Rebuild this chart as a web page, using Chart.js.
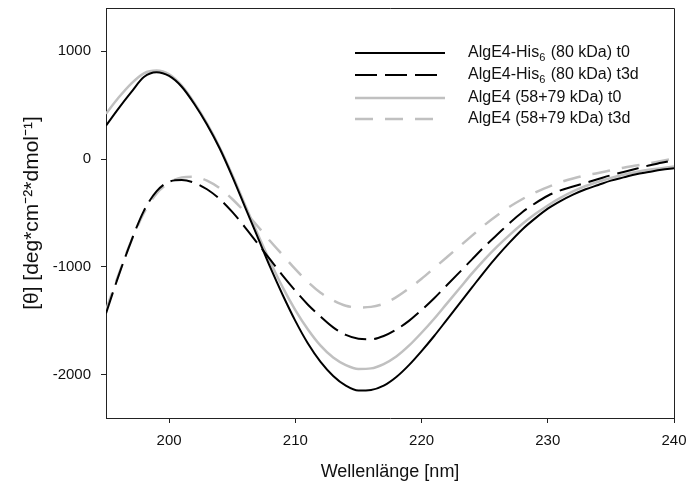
<!DOCTYPE html>
<html><head><meta charset="utf-8">
<script src="https://cdn.jsdelivr.net/npm/chart.js@4"></script>
<style>html,body{margin:0;padding:0;background:#fff}#wrap{width:687px;height:488px}</style>
</head><body><div id="wrap"><canvas id="c" width="687" height="488"></canvas></div>
<script>
const wavelengths = [195,196,197,198,199,200,201,202,203,204,205,206,207,208,209,210,211,212,213,214,215,216,217,218,219,220,221,222,223,224,225,226,227,228,229,230,231,232,233,234,235,236,237,238,239,240];
const his6T0 = [310,470,620,760,805,770,670,510,320,100,-160,-440,-720,-1000,-1260,-1500,-1710,-1880,-2010,-2100,-2145,-2140,-2100,-2020,-1910,-1780,-1640,-1490,-1340,-1190,-1040,-900,-770,-650,-550,-460,-390,-330,-280,-240,-200,-170,-140,-120,-100,-85];
const his6T3d = [-1430,-1080,-760,-480,-300,-210,-195,-220,-280,-370,-490,-630,-780,-930,-1080,-1220,-1350,-1460,-1560,-1630,-1665,-1670,-1640,-1580,-1500,-1400,-1290,-1170,-1050,-930,-810,-700,-590,-490,-410,-340,-290,-255,-220,-185,-150,-120,-90,-60,-35,-10];
const algT0 = [420,570,700,795,820,785,680,520,330,110,-145,-420,-690,-950,-1190,-1400,-1580,-1730,-1840,-1910,-1945,-1940,-1900,-1830,-1730,-1610,-1480,-1340,-1200,-1060,-930,-810,-700,-600,-510,-430,-360,-300,-250,-210,-175,-145,-120,-100,-85,-70];
const algT3d = [-1400,-1070,-760,-500,-320,-220,-170,-165,-200,-270,-370,-490,-620,-760,-890,-1020,-1140,-1240,-1310,-1360,-1375,-1370,-1340,-1280,-1200,-1110,-1010,-910,-810,-710,-610,-520,-440,-370,-310,-260,-215,-180,-150,-130,-105,-80,-60,-40,-18,5];
const seriesLabels = ['AlgE4-His₆ (80 kDa) t0','AlgE4-His₆ (80 kDa) t3d','AlgE4 (58+79 kDa) t0','AlgE4 (58+79 kDa) t3d'];
const xTicks = [200,210,220,230,240];
const yTicks = [-2000,-1000,0,1000];

const FONT = '"Liberation Sans", Arial, sans-serif';
const toXY = arr => arr.map((v,i)=>({x:wavelengths[i], y:v}));

const ds = (label, data, color, dash, width) => ({
  label, data: toXY(data), borderColor: color, backgroundColor: color,
  borderWidth: width, borderDash: dash, pointRadius: 0, fill: false,
  cubicInterpolationMode: 'monotone'
});

const framePlugin = {
  id: 'frame',
  afterDatasetsDraw(chart) {
    const {ctx, chartArea: a} = chart;
    ctx.save();
    ctx.strokeStyle = '#222'; ctx.lineWidth = 1;
    ctx.beginPath();
    ctx.moveTo(a.left, a.top + 0.5); ctx.lineTo(a.right + 0.5, a.top + 0.5);
    ctx.lineTo(a.right + 0.5, a.bottom);
    ctx.stroke();
    ctx.restore();
  }
};

const legendPlugin = {
  id: 'customLegend',
  afterDraw(chart) {
    const {ctx} = chart;
    const rows = [53, 75, 98, 119];
    ctx.save();
    chart.data.datasets.forEach((d, i) => {
      const y = rows[i];
      ctx.strokeStyle = d.borderColor; ctx.lineWidth = d.borderWidth;
      ctx.setLineDash(d.borderDash || []);
      ctx.beginPath(); ctx.moveTo(355, y); ctx.lineTo(445, y); ctx.stroke();
      ctx.setLineDash([]);
      ctx.fillStyle = '#111'; ctx.textBaseline = 'middle'; ctx.textAlign = 'left';
      let x = 468;
      const parts = d.label.split('₆');
      ctx.font = '16px ' + FONT;
      ctx.fillText(parts[0], x, y); x += ctx.measureText(parts[0]).width;
      if (parts.length > 1) {
        ctx.font = '11px ' + FONT;
        ctx.fillText('6', x, y + 5); x += ctx.measureText('6').width;
        ctx.font = '16px ' + FONT;
        ctx.fillText(parts[1], x + 1, y);
      }
    });
    ctx.restore();
  }
};

new Chart(document.getElementById('c'), {
  type: 'line',
  data: { datasets: [
    ds(seriesLabels[0], his6T0, '#000000', [], 2),
    ds(seriesLabels[1], his6T3d, '#000000', [22, 8], 2),
    ds(seriesLabels[2], algT0, '#c0c0c0', [], 2.5),
    ds(seriesLabels[3], algT3d, '#c0c0c0', [18, 12], 2.5)
  ]},
  options: {
    responsive: false, animation: false,
    layout: { padding: { top: 8, right: 13, left: 0, bottom: 0 } },
    plugins: { legend: { display: false }, tooltip: { enabled: false } },
    scales: {
      x: {
        type: 'linear', min: 195, max: 240,
        afterBuildTicks: s => { s.ticks = xTicks.map(v => ({value: v})); },
        afterFit: s => { s.height = 70; s.paddingLeft = 0; s.paddingRight = 0; },
        ticks: { font: { family: FONT, size: 15 }, color: '#111', padding: 9, maxRotation: 0, callback: v => String(v) },
        grid: { drawOnChartArea: false, drawTicks: true, tickLength: 5, color: '#222' },
        border: { display: true, color: '#222', width: 1 },
        title: { display: true, text: 'Wellenlänge [nm]', font: { family: FONT, size: 18 }, color: '#111', padding: { top: 0, bottom: 5 } }
      },
      y: {
        type: 'linear', min: -2400, max: 1400,
        afterBuildTicks: s => { s.ticks = yTicks.map(v => ({value: v})); },
        afterFit: s => { s.width = 106; s.paddingTop = 0; s.paddingBottom = 0; },
        ticks: { font: { family: FONT, size: 15 }, color: '#111', padding: 10, callback: v => String(v) },
        grid: { drawOnChartArea: false, drawTicks: true, tickLength: 5, color: '#222' },
        border: { display: true, color: '#222', width: 1 },
        title: { display: true, text: '[θ] [deg*cm⁻²*dmol⁻¹]', font: { family: FONT, size: 21 }, color: '#111', padding: { top: 20, bottom: 0 } }
      }
    }
  },
  plugins: [framePlugin, legendPlugin]
});
</script></body></html>
